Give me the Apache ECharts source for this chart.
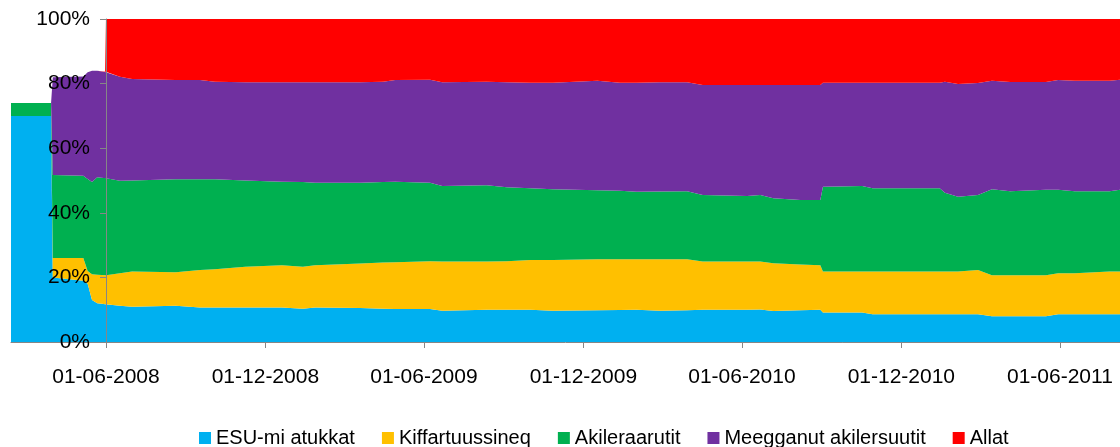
<!DOCTYPE html>
<html>
<head>
<meta charset="utf-8">
<title>ESU-mi atukkat</title>
<script src="https://cdn.jsdelivr.net/npm/echarts@6.0.0/dist/echarts.min.js"></script>
<style>
    html, body { margin: 0; padding: 0; background: #fff; }
    #chartMain { width: 1120px; height: 447px; }
</style>
</head>
<body>
<div id="chartMain"></div>
<script>
// dates of the readings
var dates = [
    '2008-02-13', '2008-03-30', '2008-04-01', '2008-05-06', '2008-05-11', '2008-05-16', '2008-05-22', '2008-05-31',
    '2008-06-01', '2008-06-17', '2008-07-01', '2008-08-20', '2008-09-17', '2008-10-04', '2008-11-08', '2008-12-20',
    '2009-01-13', '2009-01-27', '2009-03-20', '2009-04-15', '2009-04-29', '2009-06-08', '2009-06-22', '2009-08-12',
    '2009-09-04', '2009-10-01', '2009-10-27', '2009-12-17',
    '2010-01-12', '2010-01-31', '2010-02-27', '2010-03-30', '2010-04-17', '2010-06-07', '2010-06-22', '2010-07-07',
    '2010-08-07', '2010-08-30', '2010-09-02', '2010-10-17', '2010-10-29',
    '2011-01-14', '2011-01-20', '2011-02-04', '2011-02-27', '2011-03-15', '2011-04-05', '2011-05-16', '2011-05-30',
    '2011-06-18', '2011-07-28', '2011-08-09'
];

// share of each group, in percent
var esu = [
    70, 70, 20, 19, 18, 13, 12, 11.7,
    11.7, 11.2, 10.9, 11.2, 10.7, 10.7, 10.7, 10.7,
    10.3, 10.7, 10.5, 10.3, 10.2, 10.2, 9.7, 10.0, 10.0, 10.0, 9.7, 9.8,
    9.9, 10.0, 9.7, 9.8, 10.0, 10.0, 10.1, 9.6, 9.8, 10.0, 9.1, 9.1, 8.6,
    8.6, 8.6, 8.6, 8.6, 8.0, 8.0, 8.0, 8.6, 8.6, 8.6, 8.6
];
var kiff = [
    0, 0, 6, 7, 4, 8, 8.8, 9,
    9.0, 10.1, 10.9, 10.4, 11.6, 11.8, 12.6, 13.1,
    13.0, 13.1, 13.8, 14.3, 14.5, 14.8, 15.2, 14.9, 15.0, 15.4, 15.7, 15.8,
    15.7, 15.6, 15.9, 15.8, 14.9, 14.9, 14.8, 14.8, 14.2, 13.8, 12.7, 12.7, 13.2,
    13.2, 13.2, 13.2, 13.7, 12.7, 12.7, 12.7, 12.7, 12.7, 13.2, 13.2
];
var aki = [
    4, 4, 25.7, 25.5, 28.5, 28.5, 30.2, 30.1,
    30.0, 28.6, 28.2, 28.8, 28.1, 27.9, 26.7, 25.8,
    26.2, 25.5, 25.0, 24.9, 24.9, 24.3, 23.4, 23.6, 22.9, 22.2, 21.9, 21.4,
    21.2, 20.9, 21.0, 21.1, 20.6, 20.3, 20.6, 20.1, 20.0, 20.2, 26.3, 26.5, 25.8,
    25.8, 24.4, 23.2, 23.2, 26.6, 26.0, 26.4, 25.8, 25.4, 24.9, 25.3
];
var meeg = [
    0, 0, 30.3, 30.7, 33, 34.5, 33, 32.8,
    33.0, 32.2, 31.4, 30.7, 30.7, 30.2, 30.4, 30.8,
    30.9, 31.1, 31.1, 31.1, 31.5, 31.9, 32.1, 32.1, 32.5, 32.7, 33.0, 33.9,
    33.5, 33.8, 33.8, 33.7, 34.1, 34.4, 34.1, 35.1, 35.6, 35.6, 32.2, 32.0, 32.7,
    32.7, 34.4, 34.9, 34.7, 33.6, 33.8, 33.4, 34.0, 34.2, 34.2, 34.1
];
var allat = [
    0, 0, 0, 0, 0, 0, 0, 0,
    16.3, 17.9, 18.6, 18.9, 18.9, 19.4, 19.6, 19.6,
    19.6, 19.6, 19.6, 19.4, 18.9, 18.8, 19.6, 19.4, 19.6, 19.7, 19.7, 19.1,
    19.7, 19.7, 19.6, 19.6, 20.4, 20.4, 20.4, 20.4, 20.4, 20.4, 19.7, 19.7, 19.7,
    19.7, 19.4, 20.1, 19.8, 19.1, 19.5, 19.5, 18.9, 19.1, 19.1, 18.8
];

var seriesNames = ['ESU-mi atukkat', 'Kiffartuussineq', 'Akileraarutit', 'Meegganut akilersuutit', 'Allat'];
var seriesColors = ['#00B0F0', '#FFC000', '#00B050', '#7030A0', '#FF0000'];

// x axis labels: every half year
var tickDates = ['2008-06-01', '2008-12-01', '2009-06-01', '2009-12-01', '2010-06-01', '2010-12-01', '2011-06-01'];

var axisFont = 'Liberation Sans';
var startDate = '2008-02-13';
var endDate = '2011-08-09';

function toTs(s) {
    var p = s.split('-');
    return new Date(+p[0], +p[1] - 1, +p[2]).getTime();
}

function pad(n) {
    return n < 10 ? '0' + n : '' + n;
}

function buildSeries() {
    var valueArr = [esu, kiff, aki, meeg, allat];
    var result = [];
    for (var i = 0; i < valueArr.length; i++) {
        var data = [];
        for (var j = 0; j < dates.length; j++) {
            data.push([toTs(dates[j]), valueArr[i][j]]);
        }
        result.push({
            name: seriesNames[i],
            type: 'line',
            stack: 'total',
            xAxisIndex: 0,
            symbol: 'none',
            showSymbol: false,
            lineStyle: { width: 0 },
            itemStyle: { color: seriesColors[i] },
            areaStyle: { color: seriesColors[i], opacity: 1 },
            data: data
        });
    }
    return result;
}

var tickValues = [];
for (var k = 0; k < tickDates.length; k++) {
    tickValues.push(toTs(tickDates[k]));
}

var option = {
    backgroundColor: '#fff',
    animation: false,
    grid: {
        left: 11,
        right: 0,
        top: 19,
        bottom: 105,
        containLabel: false
    },
    legend: {
        left: 199,
        top: 428,
        padding: 0,
        icon: 'rect',
        itemWidth: 12,
        itemHeight: 12,
        itemGap: 27,
        textStyle: { fontFamily: axisFont, fontSize: 20, color: '#000' },
        data: seriesNames
    },
    xAxis: [
        {
            // time axis the areas are drawn on (line only)
            type: 'time',
            min: toTs(startDate),
            max: toTs(endDate),
            z: 10,
            splitLine: { show: false },
            axisLine: { lineStyle: { color: '#868686', width: 1 } },
            axisTick: { show: false },
            axisLabel: { show: false }
        },
        {
            // same range as timestamps, only for the half-year ticks and labels
            type: 'value',
            min: toTs(startDate),
            max: toTs(endDate),
            position: 'bottom',
            z: 10,
            splitLine: { show: false },
            axisLine: { show: false },
            axisTick: { show: true, length: 6, customValues: tickValues, lineStyle: { color: '#868686' } },
            axisLabel: {
                customValues: tickValues,
                margin: 25,
                color: '#000',
                fontFamily: axisFont,
                fontSize: 21,
                formatter: function (value) {
                    var d = new Date(value);
                    return pad(d.getDate()) + '-' + pad(d.getMonth() + 1) + '-' + d.getFullYear();
                }
            }
        }
    ],
    yAxis: {
        type: 'value',
        min: 0,
        max: 100,
        interval: 20,
        offset: -95,   // the axis crosses at 01-06-2008
        z: 10,
        splitLine: { show: false },
        axisLine: { show: true, lineStyle: { color: '#868686', width: 1 } },
        axisTick: { show: true, length: 6, lineStyle: { color: '#868686' } },
        axisLabel: {
            margin: 16,
            padding: [5, 0, 0, 0],
            color: '#000',
            fontFamily: axisFont,
            fontSize: 21,
            formatter: '{value}%'
        }
    },
    series: buildSeries()
};

var mychart = echarts.init(document.getElementById('chartMain'));
mychart.setOption(option);
</script>
</body>
</html>
